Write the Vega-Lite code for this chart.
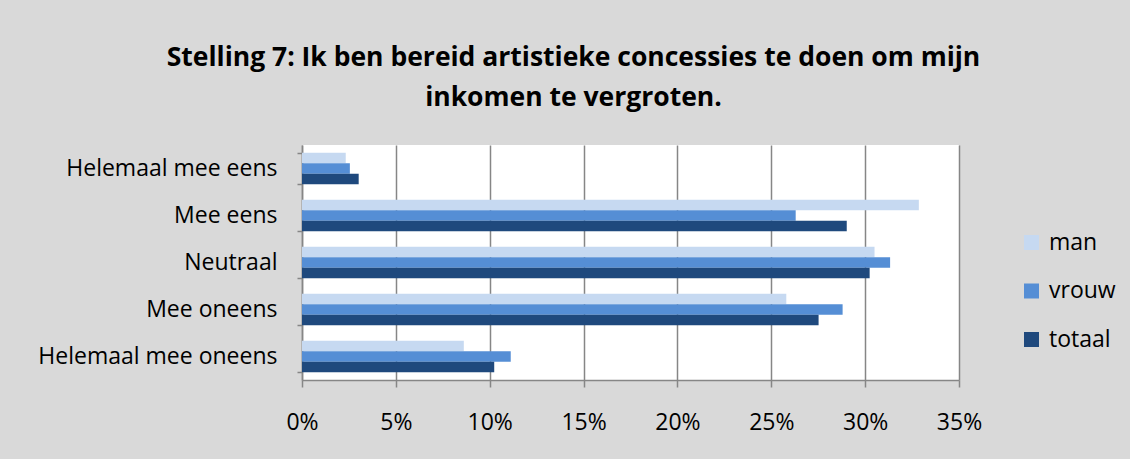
{
  "$schema": "https://vega.github.io/schema/vega-lite/v6.json",
  "autosize": {"type": "none"},
  "width": 657,
  "height": 235,
  "padding": {"left": 302, "top": 145, "right": 171, "bottom": 79},
  "background": "#d9d9d9",
  "title": {
    "text": ["Stelling 7: Ik ben bereid artistieke concessies te doen om mijn", "inkomen te vergroten."],
    "font": "Open Sans",
    "fontSize": 26.5,
    "fontWeight": "bold",
    "color": "#000000",
    "anchor": "middle",
    "dx": -57,
    "offset": 23,
    "lineHeight": 40
  },
  "data": {
    "values": [
      {"cat": "Helemaal mee eens", "g": "man", "v": 0.0233},
      {"cat": "Helemaal mee eens", "g": "vrouw", "v": 0.0255},
      {"cat": "Helemaal mee eens", "g": "totaal", "v": 0.0302},
      {"cat": "Mee eens", "g": "man", "v": 0.3286},
      {"cat": "Mee eens", "g": "vrouw", "v": 0.263},
      {"cat": "Mee eens", "g": "totaal", "v": 0.2902},
      {"cat": "Neutraal", "g": "man", "v": 0.305},
      {"cat": "Neutraal", "g": "vrouw", "v": 0.3133},
      {"cat": "Neutraal", "g": "totaal", "v": 0.3024},
      {"cat": "Mee oneens", "g": "man", "v": 0.258},
      {"cat": "Mee oneens", "g": "vrouw", "v": 0.288},
      {"cat": "Mee oneens", "g": "totaal", "v": 0.2752},
      {"cat": "Helemaal mee oneens", "g": "man", "v": 0.0862},
      {"cat": "Helemaal mee oneens", "g": "vrouw", "v": 0.1112},
      {"cat": "Helemaal mee oneens", "g": "totaal", "v": 0.1024}
    ]
  },
  "mark": {"type": "bar"},
  "encoding": {
    "y": {
      "field": "cat",
      "type": "nominal",
      "sort": ["Helemaal mee eens", "Mee eens", "Neutraal", "Mee oneens", "Helemaal mee oneens"],
      "scale": {"paddingInner": 0.33, "paddingOuter": 0.165},
      "axis": {
        "title": null,
        "tickBand": "extent",
        "tickSize": 5,
        "tickColor": "#868686",
        "tickWidth": 1.5,
        "domainColor": "#868686",
        "domainWidth": 1.5,
        "labelFont": "Open Sans",
        "labelFontSize": 23,
        "labelColor": "#000000",
        "labelPadding": 20,
        "labelLimit": 400,
        "grid": false
      }
    },
    "yOffset": {
      "field": "g",
      "type": "nominal",
      "sort": ["man", "vrouw", "totaal"],
      "scale": {"paddingInner": 0, "paddingOuter": 0}
    },
    "x": {
      "field": "v",
      "type": "quantitative",
      "scale": {"domain": [0, 0.35], "nice": false},
      "axis": {
        "title": null,
        "format": ".0%",
        "values": [0, 0.05, 0.1, 0.15, 0.2, 0.25, 0.3, 0.35],
        "grid": true,
        "gridColor": "#868686",
        "gridWidth": 1.5,
        "gridOpacity": 1,
        "tickSize": 7,
        "tickColor": "#868686",
        "tickWidth": 1.5,
        "domainColor": "#868686",
        "domainWidth": 1.5,
        "labelFont": "Open Sans",
        "labelFontSize": 23,
        "labelColor": "#000000",
        "labelPadding": 24,
        "labelFlush": false
      }
    },
    "color": {
      "field": "g",
      "type": "nominal",
      "sort": ["man", "vrouw", "totaal"],
      "scale": {"domain": ["man", "vrouw", "totaal"], "range": ["#c6d9f1", "#558ed5", "#1f497d"]},
      "legend": {
        "title": null,
        "orient": "none",
        "legendX": 718,
        "legendY": 86,
        "symbolType": "square",
        "symbolSize": 225,
        "symbolStrokeWidth": 0,
        "symbolOpacity": 1,
        "labelFont": "Open Sans",
        "labelFontSize": 23,
        "labelColor": "#000000",
        "labelOffset": 6,
        "rowPadding": 24.5
      }
    }
  },
  "config": {
    "view": {"fill": "#ffffff", "stroke": null}
  }
}
